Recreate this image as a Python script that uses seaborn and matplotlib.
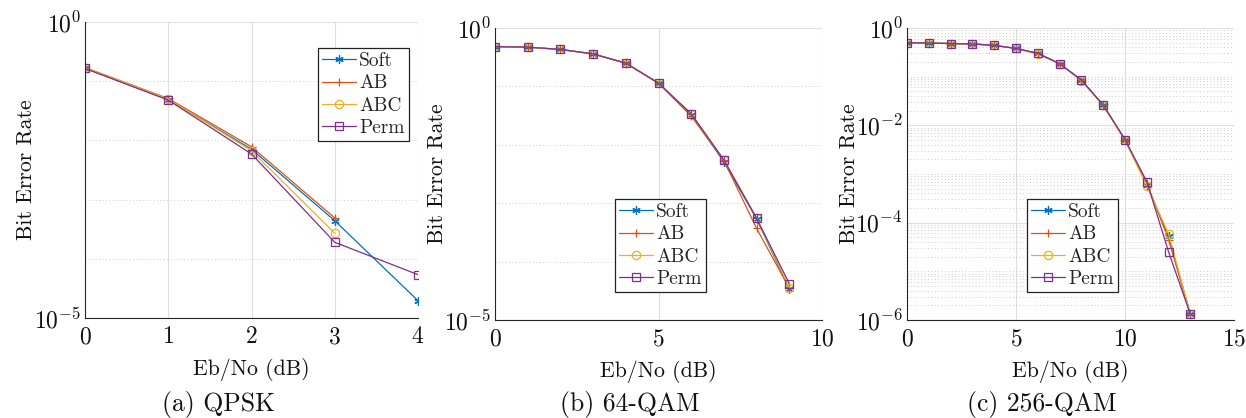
import numpy as np
import pandas as pd
import matplotlib
matplotlib.use("Agg")
import matplotlib.pyplot as plt
import matplotlib.ticker as mticker
import seaborn as sns

# ---------------- data ----------------
series_names = ["Soft", "AB", "ABC", "Perm"]

# (a) QPSK
qpsk_x = [0, 1, 2, 3, 4]
qpsk_soft = [0.166, 0.049, 7.1e-3, 4.4e-4, 1.96e-5]
qpsk_ab = [0.170, 0.051, 7.8e-3, 4.9e-4]
qpsk_abc = [0.168, 0.050, 6.7e-3, 2.7e-4]
qpsk_perm = [0.164, 0.048, 5.9e-3, 1.9e-4, 5.4e-5]

# (b) 64-QAM
qam64_x = [0, 1, 2, 3, 4, 5, 6, 7, 8, 9]
qam64_soft = [0.48, 0.47, 0.43, 0.36, 0.25, 0.114, 0.033, 5.1e-3, 5.4e-4, 3.4e-5]
qam64_ab = [0.48, 0.47, 0.43, 0.36, 0.25, 0.113, 0.031, 5.4e-3, 3.7e-4, 3.5e-5]
qam64_abc = [0.48, 0.47, 0.43, 0.36, 0.25, 0.114, 0.034, 5.5e-3, 5.6e-4, 3.6e-5]
qam64_perm = [0.48, 0.47, 0.43, 0.36, 0.25, 0.114, 0.034, 5.5e-3, 5.5e-4, 4.2e-5]

# (c) 256-QAM
qam256_x = [0, 1, 2, 3, 4, 5, 6, 7, 8, 9, 10, 11, 12, 13]
qam256_soft = [0.50, 0.49, 0.48, 0.47, 0.44, 0.38, 0.30, 0.185, 0.085, 0.026, 5.1e-3, 6.0e-4, 5.2e-5, 1.3e-6]
qam256_ab = [0.50, 0.49, 0.48, 0.47, 0.44, 0.38, 0.30, 0.185, 0.085, 0.026, 5.0e-3, 6.5e-4, 4.5e-5, 1.3e-6]
qam256_abc = [0.50, 0.49, 0.48, 0.47, 0.44, 0.38, 0.29, 0.185, 0.083, 0.026, 4.9e-3, 5.8e-4, 5.9e-5, 1.3e-6]
qam256_perm = [0.50, 0.49, 0.48, 0.47, 0.44, 0.38, 0.30, 0.185, 0.085, 0.026, 5.1e-3, 7.0e-4, 2.5e-5, 1.3e-6]

captions = ["(a) QPSK", "(b) 64-QAM", "(c) 256-QAM"]
x_label = "Eb/No (dB)"
y_label = "Bit Error Rate"

# ---------------- style ----------------
sns.set_theme(style="white")
plt.rcParams["font.family"] = ["cmr10", "DejaVu Serif"]
plt.rcParams["mathtext.fontset"] = "cm"
plt.rcParams["axes.formatter.use_mathtext"] = True
plt.rcParams["axes.unicode_minus"] = False

colors = ["#0072BD", "#D95319", "#EDB120", "#7E2F8E"]
markers = [(6, 2, 0), "+", "o", "s"]
axis_col = "#262626"
grid_col = "#dfdfdf"
TICK_FS = 17
LAB_FS = 15.7

fig = plt.figure(figsize=(12.46, 4.18), dpi=100)
W, H = 1246, 418


def ax_rect(l, t, r, b):
    return [l / W, 1 - b / H, (r - l) / W, (b - t) / H]


panels = [
    dict(rect=ax_rect(85, 22, 418, 318), x=qpsk_x,
         ys=[qpsk_soft, qpsk_ab, qpsk_abc, qpsk_perm],
         xlim=(0, 4), xticks=[0, 1, 2, 3, 4], ylim=(1e-5, 1),
         ymajor=[1e-5, 1], yminor=[1e-4, 1e-3, 1e-2, 1e-1], dense=False,
         leg=(318, 48), cap=(218, 405)),
    dict(rect=ax_rect(495, 28, 822, 320), x=qam64_x,
         ys=[qam64_soft, qam64_ab, qam64_abc, qam64_perm],
         xlim=(0, 10), xticks=[0, 5, 10], ylim=(1e-5, 1),
         ymajor=[1e-5, 1], yminor=[1e-4, 1e-3, 1e-2, 1e-1], dense=False,
         leg=(615, 199), cap=(630, 405)),
    dict(rect=ax_rect(907, 28, 1234, 320), x=qam256_x,
         ys=[qam256_soft, qam256_ab, qam256_abc, qam256_perm],
         xlim=(0, 15), xticks=[0, 5, 10, 15], ylim=(1e-6, 1),
         ymajor=[1e-6, 1e-4, 1e-2, 1], yminor=None, dense=True,
         leg=(1027, 199), cap=(1042, 405)),
]

for p, cap in zip(panels, captions):
    ax = fig.add_axes(p["rect"])
    for name, y, c, m in zip(series_names, p["ys"], colors, markers):
        xs = p["x"][: len(y)]
        df = pd.DataFrame({"x": xs, "y": y})
        filled = m == (6, 2, 0) or m == "+"
        sns.lineplot(data=df, x="x", y="y", ax=ax, color=c, marker=m,
                     markersize=6 if m != "s" else 5.5,
                     markerfacecolor=c if filled else "none",
                     markeredgecolor=c, markeredgewidth=0.9,
                     linewidth=0.9, label=name)
    ax.set_yscale("log")
    ax.set_xlim(*p["xlim"])
    ax.set_ylim(*p["ylim"])
    ax.set_xticks(p["xticks"])
    ax.yaxis.set_major_locator(mticker.FixedLocator(p["ymajor"]))
    ax.yaxis.set_major_formatter(mticker.LogFormatterSciNotation())
    if p["dense"]:
        ax.yaxis.set_minor_locator(mticker.LogLocator(base=10, subs=np.arange(1, 10), numticks=20))
    else:
        ax.yaxis.set_minor_locator(mticker.FixedLocator(p["yminor"]))
    ax.yaxis.set_minor_formatter(mticker.NullFormatter())

    ax.grid(True, which="major", axis="both", color=grid_col, linestyle="-", linewidth=0.8)
    ax.grid(True, which="minor", axis="y", color="#cccccc", linestyle=(0, (1, 2.5)), linewidth=0.7)
    ax.set_axisbelow(True)

    for s in ["top", "right"]:
        ax.spines[s].set_visible(False)
    for s in ["left", "bottom"]:
        ax.spines[s].set_color(axis_col)
        ax.spines[s].set_linewidth(0.8)
    ax.tick_params(axis="both", which="both", direction="in", colors=axis_col,
                   labelcolor="#111111", labelsize=TICK_FS)
    ax.tick_params(axis="both", which="major", length=5, width=0.8)
    ax.tick_params(axis="y", which="minor", length=3, width=0.6)
    ax.tick_params(axis="x", which="major", pad=6)
    ax.tick_params(axis="y", which="major", pad=3)

    ax.set_xlabel(x_label, fontsize=LAB_FS, color="#111111", labelpad=7)
    ax.set_ylabel(y_label, fontsize=LAB_FS, color="#111111")
    ax.yaxis.set_label_coords(-0.148, 0.5)

    lx, ly = p["leg"]
    leg = ax.legend(loc="upper left", bbox_to_anchor=(lx / W, 1 - ly / H),
                    bbox_transform=fig.transFigure, borderaxespad=0,
                    fontsize=14, frameon=True, fancybox=False,
                    handlelength=1.75, handletextpad=0.15, labelspacing=0.22,
                    borderpad=0.22)
    leg.get_frame().set_edgecolor("#222222")
    leg.get_frame().set_linewidth(0.9)
    leg.get_frame().set_alpha(1)

    fig.text(p["cap"][0] / W, 1 - p["cap"][1] / H, cap, ha="center", va="center",
             fontsize=18.5, color="#111111")

fig.savefig("out.png", dpi=100)
